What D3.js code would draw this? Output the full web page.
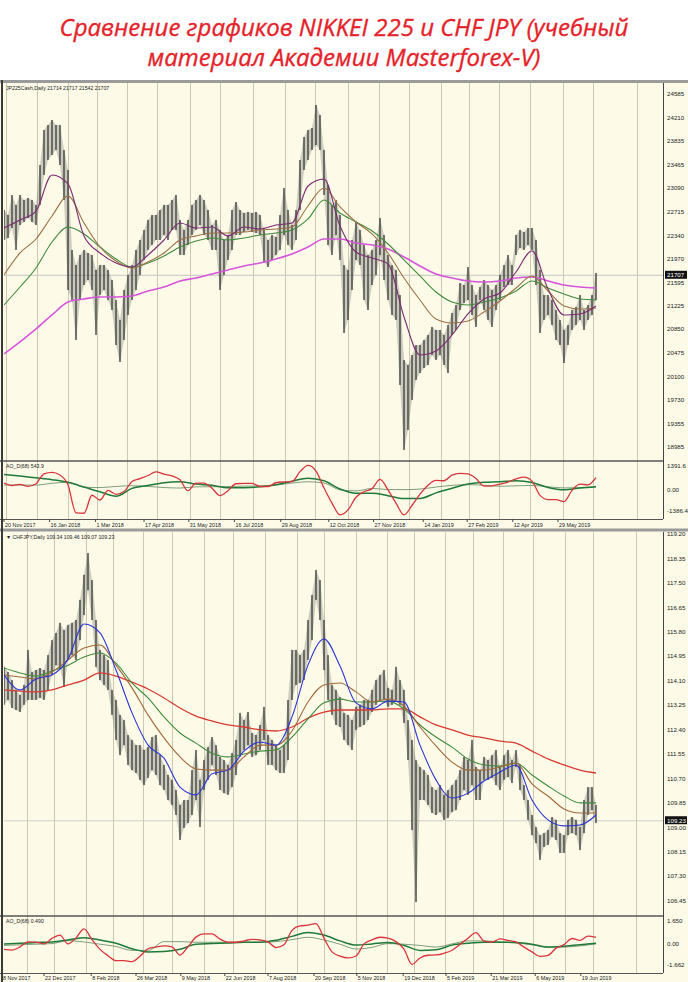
<!DOCTYPE html>
<html><head><meta charset="utf-8">
<script src="https://cdn.jsdelivr.net/npm/d3@7"></script>
<style>body{margin:0;background:#fff}svg{display:block}</style>
</head><body><svg id="c" width="688" height="982"></svg>
<script>
// ---------------- DATA ----------------
const titleLines = ["Сравнение графиков NIKKEI 225 и CHF JPY (учебный", "материал Академии Masterforex-V)"];
const topHeader = "JP225Cash,Daily  21714 21717 21542 21707";
const botHeader = "CHFJPY,Daily  109.34 109.46 109.07 109.23";
const topOscName = "AO_D(68) 543.9";
const botOscName = "AO_D(68) 0.490";
const topLast = 21707, botLast = 109.23;

// Nikkei 225 (JP225Cash) — one bar sample every ~2.7 sessions
const topHigh = [22743,22664,22981,22823,22981,22902,22934,22902,22823,23457,24013,24092,24172,24092,24092,23696,23378,22109,21870,22029,22109,22061,22029,21791,21870,21870,21791,21632,21315,20998,21474,21712,21870,22109,22267,22426,22585,22664,22664,22743,22823,22823,22902,22981,22585,22426,22585,22823,22902,22981,22902,22743,22505,22585,22426,22267,22347,22743,22870,22743,22696,22712,22696,22712,22664,22426,22267,22347,22315,22664,23092,22743,22505,22743,23537,23902,24013,24045,24410,24251,23696,23140,22823,22902,22664,21870,21791,22267,22553,22426,22188,22029,22109,22267,22616,22347,22029,21870,21791,21394,20363,20283,20442,20601,20601,20680,20760,20887,20839,20839,20760,20918,21109,21235,21585,21553,21839,21553,21394,21521,21632,21553,21474,21553,21712,21870,22029,21870,22347,22426,22394,22458,22458,22267,21791,21394,21394,21315,21156,20998,20839,20918,21156,21204,21394,21156,21235,21394,21744];
const topLow = [22267,22299,22458,22109,22505,22553,22616,22553,22505,22823,23299,23537,23616,23696,23457,22902,21474,21315,20680,21315,21553,21632,21474,20760,21394,21474,21315,21156,20601,20331,20680,21077,21315,21474,21712,21950,22109,22188,22267,22267,22347,22267,22426,22426,22029,22029,22188,22347,22426,22505,22347,22267,22109,22109,21474,21712,21950,22109,22347,22347,22394,22426,22394,22378,22347,21918,21839,21950,22029,22109,22347,22188,22109,22267,22743,23378,23537,23696,23775,23696,22981,22188,22029,22347,21950,20791,20998,21474,21950,21870,21315,21156,21553,21712,22029,21632,21315,21077,20998,19966,18935,19252,19728,20045,20156,20236,20283,20442,20363,20442,20283,20156,20760,20839,21156,21267,21315,21077,20887,21315,21156,20998,20887,21156,21315,21521,21553,21553,22029,22140,22109,22188,22109,21553,20791,20998,21077,20918,20680,20601,20315,20601,20839,20918,20998,20839,20998,21077,21315];

// Nikkei moving averages, one value every 4 bar samples
const topMAFast  = [22458,22585,22727,23299,23156,22331,22061,21902,21839,22029,22267,22537,22458,22474,22331,22474,22442,22505,22537,23124,23235,22489,22077,21981,21886,21045,20442,20506,20760,21093,21331,21426,21759,22093,21490,21077,21093,21220];
const topMAMid   = [21712,22061,22283,22648,22965,22537,22156,21934,21823,21918,22061,22267,22331,22378,22378,22394,22426,22442,22474,22807,23092,22791,22553,22363,22061,21664,21315,21013,20950,20982,21125,21299,21505,21696,21458,21220,21172,21188];
const topMASlow  = [21236,21521,21823,22235,22473,22363,22156,21966,21839,21902,22013,22156,22251,22299,22267,22299,22347,22378,22426,22601,22902,22696,22553,22410,22204,21950,21696,21442,21283,21236,21283,21347,21458,21617,21505,21410,21331,21315];
const topMA200   = [20458,20649,20855,21077,21283,21331,21363,21363,21378,21458,21521,21617,21664,21728,21791,21855,21902,21966,22045,22156,22283,22283,22220,22188,22124,21997,21855,21728,21664,21617,21601,21617,21664,21680,21617,21553,21521,21505];

// Nikkei oscillator: red every 2 samples, greens every 4 samples
const topOscRed = [350,221,285,170,320,850,930,790,245,-1265,-1290,-310,-570,-40,-260,-110,435,600,765,960,835,745,530,-70,350,355,75,-330,-60,315,338,338,165,165,370,415,430,975,1320,1010,90,-740,-1380,-1110,-420,-120,50,550,-20,-740,-1380,-870,-250,240,500,480,790,882,850,600,190,200,300,410,580,675,460,-320,-545,-550,-660,-45,290,260,650];
const topOscGreen = [817,735,637,534,392,136,-125,-365,65,218,370,420,300,229,98,103,147,261,452,621,479,27,-207,-207,-332,-490,-485,-180,71,300,398,425,479,387,114,-11,82,153];
const topOscGray  = [245,245,245,343,398,131,109,169,207,169,109,82,147,153,163,185,202,245,354,425,354,-16,-76,60,0,-5,27,136,229,267,234,180,202,223,153,87,103,153];

// CHF/JPY bar samples
const botHigh = [114.58,114.40,114.12,113.78,113.60,113.95,115.17,114.40,114.47,114.54,114.47,114.99,115.51,115.76,116.11,115.86,116.04,116.11,116.21,116.91,117.78,118.54,117.60,116.21,115.17,114.99,114.82,113.78,113.43,112.91,112.73,112.21,112.04,111.86,111.86,111.69,111.79,112.14,112.21,111.51,111.17,110.82,110.65,110.30,109.78,109.95,109.95,110.99,111.69,110.65,111.34,111.79,112.14,111.86,111.45,111.34,111.17,111.58,112.04,112.98,112.73,113.01,112.28,112.21,112.56,113.19,112.21,112.04,111.86,111.69,111.86,113.43,115.17,115.17,114.99,115.17,116.21,117.08,117.95,117.60,116.21,114.99,113.95,113.78,113.53,112.98,112.91,112.73,113.19,113.26,113.43,113.43,113.78,114.12,114.30,114.47,113.85,113.78,114.58,114.12,113.78,112.73,112.04,111.34,111.10,110.99,110.82,110.40,110.30,110.47,110.13,110.30,110.47,110.65,110.99,111.45,111.34,112.04,111.10,110.99,111.45,111.34,111.51,111.69,111.10,111.51,111.69,111.34,111.69,111.17,110.47,109.95,109.43,109.01,108.73,108.80,108.91,109.36,109.26,108.80,108.73,109.26,109.36,109.26,109.01,109.95,110.40,110.40,109.78];
const botLow = [113.26,113.43,113.15,113.08,113.01,113.26,113.43,113.43,113.43,113.50,113.43,113.78,114.30,114.64,114.54,113.88,114.82,114.99,114.82,115.51,116.38,117.25,116.21,114.58,114.12,113.95,113.78,112.91,112.04,111.51,111.86,111.17,110.99,110.89,110.65,110.47,110.72,110.99,110.82,110.47,110.30,109.95,109.78,109.43,108.56,108.98,109.15,109.43,109.95,109.01,110.30,110.65,111.17,110.82,110.30,110.19,110.13,110.40,110.82,111.45,111.69,111.86,111.45,111.51,111.69,112.04,111.17,111.17,110.99,110.89,110.89,111.34,113.43,113.95,114.02,114.12,114.82,115.51,116.91,116.21,114.47,113.43,112.91,112.56,112.49,112.04,111.86,111.69,112.39,112.49,112.56,112.73,113.01,113.26,113.43,113.43,113.19,113.26,113.43,113.26,112.63,111.34,108.91,106.40,109.95,109.95,109.78,109.50,109.43,109.53,109.26,109.33,109.53,109.60,109.95,110.30,110.13,110.47,109.95,109.95,110.65,110.65,110.72,110.47,110.30,110.65,110.75,110.54,111.10,110.30,109.95,109.26,108.73,108.45,107.87,108.32,108.39,108.67,108.56,108.11,108.11,108.73,108.80,108.73,108.21,108.80,109.43,109.60,109.15];

const botMABlue  = [114.30,113.78,114.16,114.30,114.85,116.07,115.76,114.47,112.98,111.86,111.41,110.40,110.13,110.86,110.99,111.65,111.97,111.86,112.84,114.64,115.55,114.61,113.33,113.12,113.39,113.36,111.86,110.65,110.02,110.19,110.61,110.92,111.17,109.95,109.26,109.05,109.08,109.43];
const botMABrown = [114.30,114.23,114.16,114.40,114.82,115.24,115.34,114.64,113.85,112.91,112.11,111.45,111.03,110.99,110.99,111.45,111.86,111.86,112.35,113.36,113.95,114.02,113.71,113.36,113.46,113.22,112.49,111.83,111.27,110.99,110.99,111.10,111.24,110.51,110.09,109.64,109.50,109.50];
const botMAGreen = [114.54,114.37,114.26,114.44,114.64,114.92,115.06,114.71,114.02,113.50,112.84,112.28,111.93,111.58,111.45,111.55,111.65,111.69,112.14,112.77,113.33,113.46,113.36,113.36,113.39,113.12,112.56,112.14,111.79,111.38,111.17,111.13,111.24,110.82,110.44,110.09,109.85,109.85];
const botMARed   = [113.78,113.74,113.71,113.78,113.95,114.12,114.37,114.26,114.05,113.81,113.50,113.15,112.87,112.70,112.56,112.49,112.39,112.35,112.49,112.80,113.01,113.08,113.08,113.08,113.12,113.12,112.84,112.56,112.39,112.21,112.11,112.00,111.93,111.65,111.38,111.17,110.99,110.89];

const botOscRed = [-0.36,-0.41,-0.20,0.14,0.12,0.00,0.37,0.58,0.00,0.40,1.00,0.28,-0.36,-0.78,-1.11,-1.11,-1.18,-0.82,-0.32,-0.21,-0.13,-0.19,-0.74,-0.19,0.45,0.66,0.66,0.32,0.11,0.11,0.20,0.30,0.26,0.14,-0.24,-0.05,0.90,1.19,1.24,1.35,0.38,-0.53,-0.81,-0.93,-0.80,0.00,0.27,0.44,0.39,0.15,-0.35,-1.35,-0.93,-0.75,-0.73,-0.62,-0.42,-0.03,0.38,0.75,0.20,0.12,0.33,0.23,0.13,-0.21,-0.53,-0.83,-0.76,-0.28,-0.05,0.36,0.24,0.52,0.44];
const botOscGreen = [0.00,0.04,0.09,0.13,0.26,0.41,0.26,0.04,-0.32,-0.53,-0.51,-0.36,-0.02,0.02,0.06,0.11,0.11,0.24,0.50,0.76,0.59,0.20,-0.08,0.00,0.09,-0.10,-0.43,-0.39,-0.08,0.04,0.11,0.11,0.09,-0.02,-0.21,-0.15,-0.06,0.04];
const botOscGray  = [-0.10,-0.06,-0.02,0.02,0.22,0.13,-0.02,-0.17,-0.43,-0.43,0.15,0.15,0.11,0.11,0.11,0.11,0.11,0.15,0.28,0.44,0.26,-0.02,-0.34,-0.23,0.02,-0.02,-0.10,-0.21,0.00,0.20,0.20,0.13,0.06,-0.06,-0.21,-0.21,-0.13,0.00];

// Axis tick labels
const topPriceTicks = [24585,24210,23835,23465,23090,22715,22340,21970,21595,21225,20850,20475,20100,19730,19355,18985];
const topOscTicks = [1391.6, 0, -1386.4];
const topOscTickLabels = ["1391.6","0.00","-1386.4"];
const botPriceTicks = [119.20,118.35,117.50,116.65,115.80,114.95,114.10,113.25,112.40,111.55,110.70,109.85,109.00,108.15,107.30,106.45];
const botOscTicks = [1.650, 0, -1.662];
const botOscTickLabels = ["1.650","0.00","-1.662"];

// Date labels (position expressed in bar-sample index)
const topDates = ["20 Nov 2017","16 Jan 2018","1 Mar 2018","17 Apr 2018","31 May 2018","16 Jul 2018","29 Aug 2018","12 Oct 2018","27 Nov 2018","14 Jan 2019","27 Feb 2019","12 Apr 2019","29 May 2019"];
const topDateIdx = [0,11.4,22.9,35,46.2,57.6,69.2,81.2,92.4,104.8,115.8,127.2,138.5];
const botDates = ["8 Nov 2017","22 Dec 2017","8 Feb 2018","26 Mar 2018","9 May 2018","22 Jun 2018","7 Aug 2018","20 Sep 2018","5 Nov 2018","19 Dec 2018","5 Feb 2019","21 Mar 2019","6 May 2019","19 Jun 2019"];
const botDateIdx = [-0.5,10,21.8,33,44.2,55.2,66,77.5,88.2,99.8,110.5,121.8,132.8,144.2];
const topGridIdx = [0.5,8.25,16,23.25,30.75,38.25,46.5,54,62.25,70.25,77.75,86,93.75,101.25,109.25,116.25,123.75,131.5,139.75,147.25,158.25];
const botGridIdx = [-0.25,5.75,12.5,20.5,27.25,34.75,42,50,57.25,65.25,73.25,80,88,95.75,102.5,110.25,117.25,124.75,132.25,140.25,147.25,158];

// ---------------- LAYOUT ----------------
const W = 688, H = 982;
const L = 4, R = 663;
const svg = d3.select('#c');
const cream = '#fdfbe8';
const FONT = 'Liberation Sans, Arial, sans-serif';

svg.append('rect').attr('x',0).attr('y',0).attr('width',W).attr('height',80).attr('fill','#fff');
titleLines.forEach((t,i)=>{
  svg.append('text').attr('x',344).attr('y',36+i*30).attr('text-anchor','middle')
    .attr('font-family','Open Sans, sans-serif').attr('font-style','italic').attr('font-size',24)
    .attr('fill','#e5222a').attr('stroke','#e5222a').attr('stroke-width',0.35).text(t);
});
svg.append('rect').attr('x',0).attr('y',80).attr('width',W).attr('height',H-80).attr('fill',cream);

const nS = topHigh.length;
const x = d3.scaleLinear().domain([0, nS-1]).range([4, 596]);
const maIdx = d3.range(topMAFast.length).map(k=>Math.min(k*4, nS-1));
const oscIdx2 = d3.range(topOscRed.length).map(k=>Math.min(k*2, nS-1));
const oscIdx4 = d3.range(topOscGreen.length).map(k=>Math.min(k*4, nS-1));

function panel(cfg){
  const g = svg.append('g');
  const clipId = 'clip'+Math.random().toString(36).slice(2);
  svg.append('clipPath').attr('id',clipId).append('rect')
    .attr('x',L).attr('y',cfg.top).attr('width',R-L).attr('height',cfg.oscBottom-cfg.top);
  const gc = g.append('g').attr('clip-path',`url(#${clipId})`);
  gc.selectAll('line.grid').data(cfg.grid).enter().append('line')
    .attr('x1',d=>Math.round(x(d))+0.5).attr('x2',d=>Math.round(x(d))+0.5)
    .attr('y1',cfg.top).attr('y2',cfg.oscBottom).attr('stroke','#cdc8b0').attr('stroke-width',1);
  const y = d3.scaleLinear().domain(cfg.pDomain).range(cfg.pRange);
  gc.append('line').attr('x1',L).attr('x2',R).attr('y1',y(cfg.last)).attr('y2',y(cfg.last))
    .attr('stroke','#d0d0c8').attr('stroke-width',1.2);
  const bars = d3.range(nS);
  // continuous high-low band (dense bars look)
  const band = d3.area().x(i=>x(i)).y0(i=>y(cfg.lo[i])).y1(i=>y(cfg.hi[i])).curve(d3.curveLinear);
  gc.append('path').attr('d', band(bars)).attr('fill','#6f6f6a').attr('fill-opacity',0.33);
  gc.selectAll('line.halo').data(bars).enter().append('line')
    .attr('x1',i=>x(i)).attr('x2',i=>x(i)).attr('y1',i=>y(cfg.hi[i])).attr('y2',i=>y(cfg.lo[i]))
    .attr('stroke','#8a8a86').attr('stroke-width',2.2).attr('stroke-opacity',0.4);
  gc.selectAll('line.core').data(bars).enter().append('line')
    .attr('x1',i=>x(i)).attr('x2',i=>x(i)).attr('y1',i=>y(cfg.hi[i])).attr('y2',i=>y(cfg.lo[i]))
    .attr('stroke','#262626').attr('stroke-width',1);
  const ln = d3.line().x(d=>x(d[0])).y(d=>y(d[1])).curve(d3.curveMonotoneX);
  cfg.mas.forEach(m=>{
    gc.append('path').attr('d', ln(maIdx.map((ix,k)=>[ix, m.data[k]])))
      .attr('fill','none').attr('stroke',m.color).attr('stroke-width',m.w);
  });
  const yo = d3.scaleLinear().domain(cfg.oDomain).range([cfg.oscBottom-4, cfg.oscTop+2]);
  const lo = d3.line().x(d=>x(d[0])).y(d=>yo(d[1])).curve(d3.curveMonotoneX);
  gc.append('path').attr('d', lo(oscIdx4.map((ix,k)=>[ix, cfg.oGray[k]])))
    .attr('fill','none').attr('stroke','#7f9f7a').attr('stroke-width',1);
  gc.append('path').attr('d', lo(oscIdx4.map((ix,k)=>[ix, cfg.oGreen[k]])))
    .attr('fill','none').attr('stroke','#1f7a3a').attr('stroke-width',1.5);
  gc.append('path').attr('d', lo(oscIdx2.map((ix,k)=>[ix, cfg.oRed[k]])))
    .attr('fill','none').attr('stroke','#d9343c').attr('stroke-width',1.3);
  g.append('line').attr('x1',0).attr('x2',R).attr('y1',cfg.sep).attr('y2',cfg.sep).attr('stroke','#555').attr('stroke-width',1.5);
  g.append('line').attr('x1',0).attr('x2',R).attr('y1',cfg.oscBottom+0.5).attr('y2',cfg.oscBottom+0.5).attr('stroke','#555').attr('stroke-width',1);
  g.append('line').attr('x1',R+0.5).attr('x2',R+0.5).attr('y1',cfg.top).attr('y2',cfg.oscBottom).attr('stroke','#444').attr('stroke-width',1);
  const ax = g.append('g').attr('font-family',FONT).attr('font-size',6.2).attr('fill','#222');
  cfg.pTicks.forEach(v=>{
    ax.append('text').attr('x',R+4).attr('y',y(v)+2.2).text(cfg.fmt(v));
  });
  const ly = y(cfg.last);
  ax.append('rect').attr('x',R+2).attr('y',ly-4.5).attr('width',22).attr('height',8).attr('fill','#111');
  ax.append('text').attr('x',R+4).attr('y',ly+2.2).attr('fill','#fff').text(cfg.fmt(cfg.last));
  cfg.oTicks.forEach((v,k)=>{
    const yy = k===0 ? cfg.oscTop+6 : (k===2 ? cfg.oscBottom-6 : yo(v)+2);
    ax.append('text').attr('x',R+4).attr('y',yy).text(cfg.oLabels[k]);
  });
  g.append('text').attr('x',6).attr('y',cfg.top+7).attr('font-family',FONT).attr('font-size',5.2).attr('fill','#222').text(cfg.header);
  g.append('text').attr('x',6).attr('y',cfg.oscTop+6).attr('font-family',FONT).attr('font-size',5.2).attr('fill','#222').text(cfg.oscName);
  const dg = g.append('g').attr('font-family',FONT).attr('font-size',5.4).attr('fill','#222');
  cfg.dates.forEach((d,k)=>{
    const xx = x(cfg.dateIdx[k]);
    dg.append('line').attr('x1',xx).attr('x2',xx).attr('y1',cfg.oscBottom).attr('y2',cfg.oscBottom+3).attr('stroke','#444');
    dg.append('text').attr('x',xx+1).attr('y',cfg.dateY).text(d);
  });
}

panel({top:83, sep:461, oscTop:462, oscBottom:519, dateY:527,
  hi:topHigh, lo:topLow, last:topLast, grid:topGridIdx,
  pDomain:[18985,24585], pRange:[446.8,93.95], pTicks:topPriceTicks, fmt:v=>String(Math.round(v)),
  mas:[{data:topMA200,color:'#d655dc',w:1.6},{data:topMASlow,color:'#3f8a3c',w:1.1},{data:topMAMid,color:'#9a7044',w:1.1},{data:topMAFast,color:'#7b2a72',w:1.1}],
  oDomain:[-1386.4,1391.6], oRed:topOscRed, oGreen:topOscGreen, oGray:topOscGray, oTicks:topOscTicks, oLabels:topOscTickLabels,
  header:topHeader, oscName:topOscName, dates:topDates, dateIdx:topDateIdx});

panel({top:532, sep:916, oscTop:917, oscBottom:973, dateY:980,
  hi:botHigh, lo:botLow, last:botLast, grid:botGridIdx,
  pDomain:[106.45,119.20], pRange:[900.7,534], pTicks:botPriceTicks, fmt:v=>v.toFixed(2),
  mas:[{data:botMARed,color:'#d83a30',w:1.3},{data:botMAGreen,color:'#3f8a3c',w:1.1},{data:botMABrown,color:'#a0683a',w:1.1},{data:botMABlue,color:'#2a34d6',w:1.1}],
  oDomain:[-1.662,1.650], oRed:botOscRed, oGreen:botOscGreen, oGray:botOscGray, oTicks:botOscTicks, oLabels:botOscTickLabels,
  header:'\u25BC '+botHeader, oscName:botOscName, dates:botDates, dateIdx:botDateIdx});

svg.append('rect').attr('x',0).attr('y',80).attr('width',W).attr('height',3).attr('fill','#9b9b9b');
svg.append('rect').attr('x',0).attr('y',528.5).attr('width',W).attr('height',3).attr('fill','#9b9b9b');
svg.append('rect').attr('x',1).attr('y',80).attr('width',2).attr('height',H-80).attr('fill','#3a3a3a');
</script></body></html>
